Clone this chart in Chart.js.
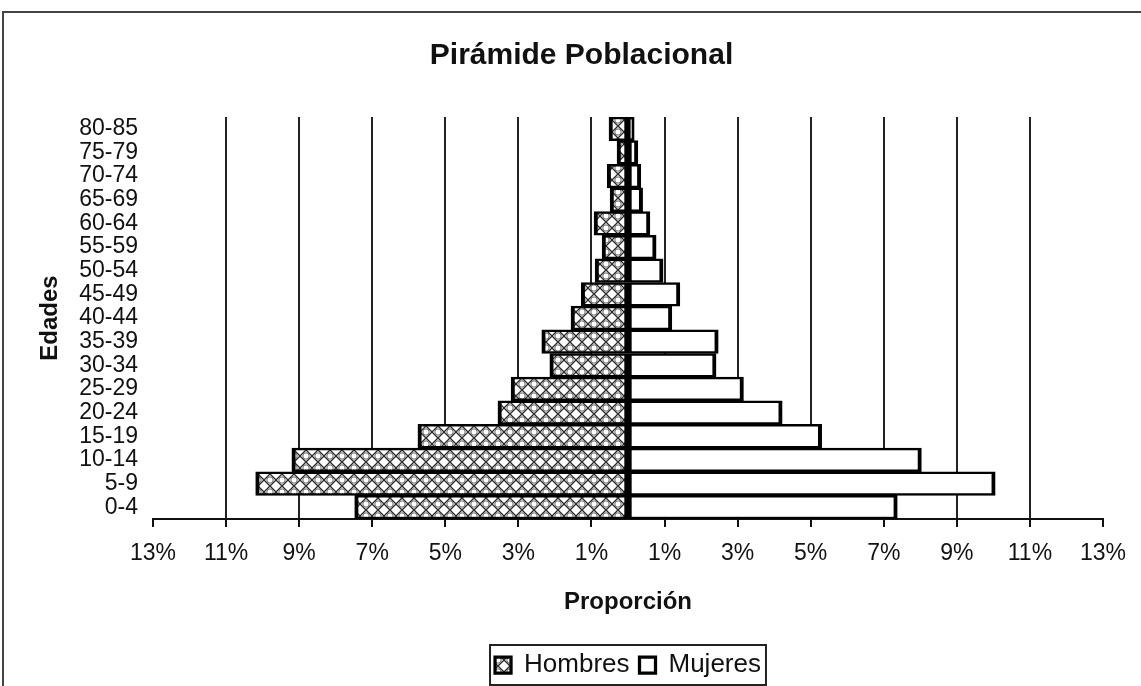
<!DOCTYPE html>
<html><head><meta charset="utf-8">
<script src="https://cdn.jsdelivr.net/npm/chart.js@4.4.1/dist/chart.umd.min.js"></script>
<style>html,body{margin:0;padding:0;background:#fff;overflow:hidden}#wrap{width:1141px;height:686px;position:relative}</style>
</head><body><div id="wrap"><canvas id="c"></canvas></div>
<script>
const ageGroups = ["0-4","5-9","10-14","15-19","20-24","25-29","30-34","35-39","40-44","45-49","50-54","55-59","60-64","65-69","70-74","75-79","80-85"];
const hombresPct = [7.48, 10.19, 9.2, 5.75, 3.56, 3.2, 2.14, 2.36, 1.56, 1.28, 0.9, 0.71, 0.93, 0.49, 0.57, 0.3, 0.52];
const mujeresPct = [7.37, 10.05, 8.03, 5.3, 4.22, 3.16, 2.41, 2.47, 1.2, 1.42, 0.96, 0.77, 0.6, 0.4, 0.35, 0.27, 0.17];
const xTickValues = [-13,-11,-9,-7,-5,-3,-1,1,3,5,7,9,11,13];
const seriesNames = ["Hombres","Mujeres"];
const chartTitle = "Pirámide Poblacional";
const xTitle = "Proporción";
const yTitle = "Edades";

Chart.defaults.font.family = "'Liberation Sans', Arial, sans-serif";
const canvas = document.getElementById('c');
const ctx = canvas.getContext('2d');

function makePattern(){
  const t = document.createElement('canvas');
  t.width = 12; t.height = 12;
  const g = t.getContext('2d');
  g.fillStyle = '#fff'; g.fillRect(0,0,12,12);
  g.strokeStyle = '#2a2a2a'; g.lineWidth = 1.3;
  g.beginPath();
  g.moveTo(0,0); g.lineTo(12,12);
  g.moveTo(12,0); g.lineTo(0,12);
  g.stroke();
  g.lineWidth = 0.9; g.strokeStyle = '#555';
  g.beginPath(); g.arc(6,0,3.2,0,Math.PI); g.stroke();
  g.beginPath(); g.arc(6,12,3.2,Math.PI,2*Math.PI); g.stroke();
  return ctx.createPattern(t,'repeat');
}
const hatch = makePattern();

const framePlugin = {
  id:'frame',
  beforeDraw(chart){
    const c = chart.ctx;
    c.save();
    c.fillStyle = '#fff'; c.fillRect(0,0,chart.width,chart.height);
    c.strokeStyle = '#444'; c.lineWidth = 2;
    c.beginPath(); c.moveTo(3, chart.height+5); c.lineTo(3,12); c.lineTo(chart.width+5,12); c.stroke();
    c.restore();
  },
  afterDraw(chart){
    const lg = chart.legend;
    if(!lg || !lg.legendHitBoxes || !lg.legendHitBoxes.length) return;
    let x0=Infinity,y0=Infinity,x1=-Infinity,y1=-Infinity;
    lg.legendHitBoxes.forEach(b=>{x0=Math.min(x0,b.left);y0=Math.min(y0,b.top);x1=Math.max(x1,b.left+b.width);y1=Math.max(y1,b.top+b.height);});
    const c = chart.ctx;
    c.save(); c.strokeStyle='#222'; c.lineWidth=2;
    c.strokeRect(x0-5, y0-7, (x1-x0)+10, (y1-y0)+14);
    c.restore();
  }
};

const bw = {top:2.5,bottom:2.5,left:4,right:4};
new Chart(ctx, {
  type:'bar',
  data:{
    labels: ageGroups,
    datasets:[
      {label:seriesNames[0], data: hombresPct.map(v=>-v), backgroundColor:hatch, borderColor:'#000', borderWidth:bw, borderSkipped:false, barPercentage:1, categoryPercentage:1},
      {label:seriesNames[1], data: mujeresPct, backgroundColor:'#fff', borderColor:'#000', borderWidth:bw, borderSkipped:false, barPercentage:1, categoryPercentage:1}
    ]
  },
  options:{
    indexAxis:'y', responsive:true, maintainAspectRatio:false, animation:false,
    layout:{padding:{left:60,right:38,top:0,bottom:-2}},
    plugins:{
      title:{display:true,text:chartTitle,font:{size:30,weight:'bold'},color:'#111',padding:{top:38,bottom:43}},
      legend:{position:'bottom', fullSize:false, labels:{font:{size:26},color:'#111',boxWidth:16,boxHeight:16,padding:10}},
      tooltip:{enabled:false}
    },
    scales:{
      x:{type:'linear', stacked:true, min:-13, max:13,
        afterBuildTicks:s=>{s.ticks = xTickValues.map(v=>({value:v}));},
        afterFit:s=>{s.height=123;},
        ticks:{callback:v=>Math.abs(v)+'%', font:{size:23}, color:'#111', padding:13, autoSkip:false, maxRotation:0},
        grid:{color:c=>(c.tick && Math.abs(c.tick.value)===13)?'rgba(0,0,0,0)':'#222', lineWidth:2, tickLength:8, tickColor:'#111', tickWidth:2},
        border:{display:true,color:'#111',width:2},
        title:{display:true,text:xTitle,font:{size:24,weight:'bold'},color:'#111',padding:{top:0,bottom:25}}
      },
      y:{stacked:true, reverse:true,
        afterFit:s=>{s.width=93;},
        grid:{display:false, drawTicks:false}, border:{display:false},
        ticks:{font:{size:23},color:'#111',padding:15,autoSkip:false},
        title:{display:true,text:yTitle,font:{size:24,weight:'bold'},color:'#111',padding:{top:-24.4,bottom:0}}
      }
    }
  },
  plugins:[framePlugin]
});
</script></body></html>
